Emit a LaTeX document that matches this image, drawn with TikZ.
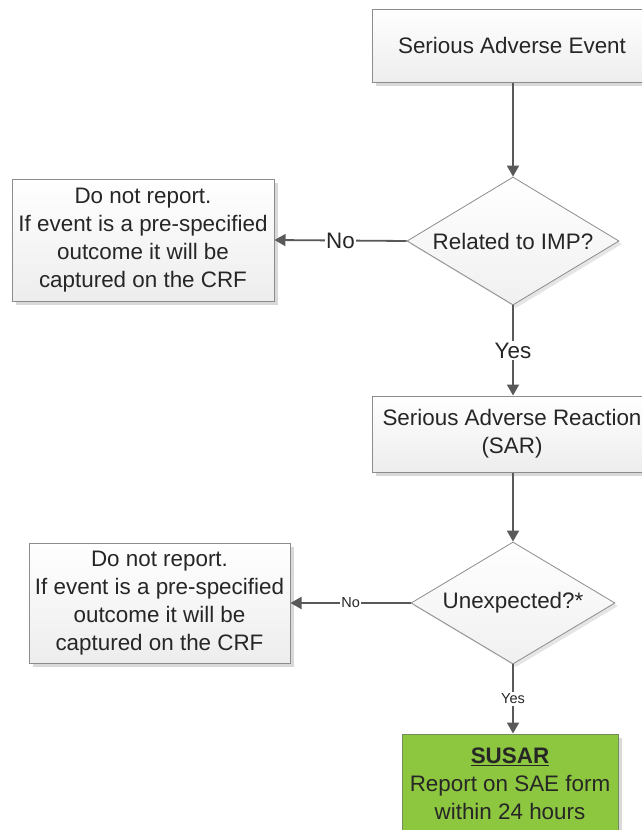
\documentclass[tikz,border=0pt]{standalone}
\usepackage{fontspec}
\setmainfont{Liberation Sans}
\usetikzlibrary{shapes.geometric,arrows.meta,shadows}
\definecolor{txt}{HTML}{262626}
\definecolor{arrc}{HTML}{595959}
\definecolor{bord}{HTML}{8C8C8C}
\definecolor{susar}{RGB}{141,198,63}
\definecolor{susarb}{RGB}{115,140,95}
\tikzset{
  big/.style={font=\fontsize{22.4}{28}\selectfont},
  small/.style={font=\fontsize{14.5}{17}\selectfont},
  box/.style={rectangle, draw=bord, line width=1pt, top color=white, bottom color=gray!14,
    drop shadow={shadow xshift=4pt, shadow yshift=-4pt, fill=gray!30, opacity=1},
    align=center, text=txt, inner sep=0pt, big},
  dec/.style={diamond, draw=bord, line width=0.8pt, top color=white, bottom color=gray!12,
    drop shadow={shadow xshift=3pt, shadow yshift=-3pt, fill=gray!20, opacity=1},
    align=center, text=txt, inner sep=0pt, big},
  green/.style={rectangle, draw=susarb, line width=1pt, fill=susar,
    drop shadow={shadow xshift=4pt, shadow yshift=-4pt, fill=gray!30, opacity=1},
    align=center, text=txt, inner sep=0pt, big},
  arr/.style={draw=arrc, line width=1.8pt, -{Triangle[length=11pt,width=12pt]}},
  lab/.style={fill=white, text=txt, inner sep=1.5pt}
}
\begin{document}
\begin{tikzpicture}[x=1pt,y=-1pt]
\useasboundingbox (0,0) rectangle (642,830);
\clip (0,0) rectangle (642,830);
\node[box, minimum width=280pt, minimum height=73pt] (e1) at (512,45.5) {Serious Adverse Event};
\node[dec, aspect=1.66, minimum width=212pt, minimum height=128pt] (d1) at (513,241) {Related to IMP?};
\node[box, minimum width=262pt, minimum height=122pt] (n1) at (143,240) {Do not report.\\If event is a pre-specified\\outcome it will be\\captured on the CRF};
\node[box, minimum width=280pt, minimum height=76pt] (r1) at (512,434) {Serious Adverse Reaction\\(SAR)};
\node[dec, aspect=1.67, minimum width=204pt, minimum height=122pt] (d2) at (513,603) {Unexpected?*};
\node[box, minimum width=261pt, minimum height=120pt] (n2) at (159.5,603) {Do not report.\\If event is a pre-specified\\outcome it will be\\captured on the CRF};
\node[green, minimum width=216pt, minimum height=100pt] (s1) at (510,784) {\underline{\textbf{SUSAR}}\\Report on SAE form\\within 24 hours};
\draw[arr] (e1.south -| d1.north) -- (d1.north);
\draw[arr] (d1.west) -- node[lab, big]{No} (n1.east);
\draw[arr] (d1.south) -- node[lab, big]{Yes} (d1.south |- r1.north);
\draw[arr] (d1.south |- r1.south) -- (d2.north);
\draw[arr] (d2.west) -- node[lab, small]{No} (n2.east);
\draw[arr] (d2.south) -- node[lab, small]{Yes} (d2.south |- s1.north);
\end{tikzpicture}
\end{document}
